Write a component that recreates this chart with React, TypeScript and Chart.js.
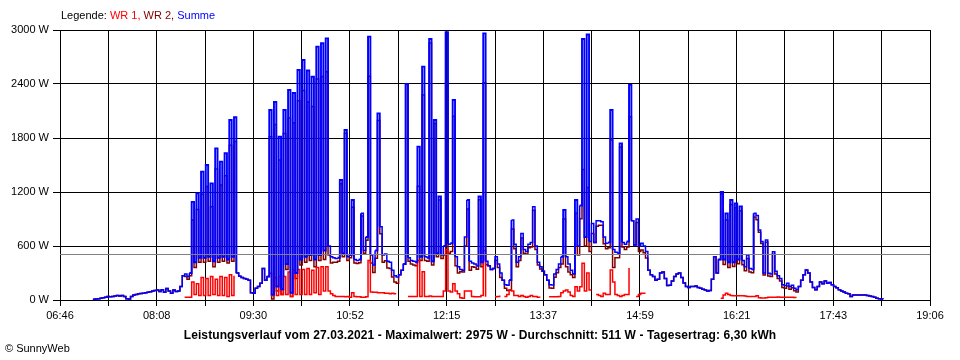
import React, { useEffect, useRef } from "react";
import { Chart, registerables } from "chart.js";

Chart.register(...registerables);

// ---- axis / labels ----
const X_MIN_LABEL = "06:46";
const X_MAX_LABEL = "19:06";
const X_LABELS = ["06:46", "08:08", "09:30", "10:52", "12:15", "13:37", "14:59", "16:21", "17:43", "19:06"];
const X_GRID_DIVISIONS = 18;
const Y_TICKS = [0, 600, 1200, 1800, 2400, 3000];
const Y_UNIT = " W";

// ---- sampling ----
const FIRST_SAMPLE = "07:14";
const SAMPLE_STEP_MIN = 2;
const AVERAGE_W = 511;

// ---- series (W), one row = 30 minutes ----
const SUMME: (number | null)[] = [
  8, 10, 15, 20, 25, 30, 40, 35, 40, 45, 50, 45, 50, 40, 15,
  12, 40, 55, 60, 70, 72, 75, 80, 85, 92, 100, 105, 110, 95, 115,
  85, 128, 100, 75, 110, 95, 100, 150, 270, 290, 260, 300, 1090, 420, 1185,
  470, 1426, 470, 1500, 480, 1296, 430, 1685, 470, 1537, 480, 1630, 450, 2000, 480,
  2030, 300, 265, 250, 240, 230, 220, 80, 75, 130, 150, 185, 350, 220, 260,
  2111, 60, 2200, 150, 1815, 120, 2111, 400, 2333, 80, 2300, 300, 2555, 450, 2667,
  480, 2550, 500, 2480, 450, 2815, 500, 2852, 550, 2907, 600, 480, 470, 460, 470,
  1333, 520, 1889, 480, 500, 1111, 450, 440, 450, 963, 550, 700, 2926, 500, 390,
  550, 2074, 815, 500, 510, 430, 420, 330, 270, 255, 280, 330, 400, 2400, 470,
  440, 430, 420, 1704, 480, 2593, 480, 470, 2900, 430, 2000, 520, 1150, 500, 600,
  2975, 620, 630, 2222, 480, 370, 340, 330, 700, 1111, 430, 410, 400, 380, 1150,
  420, 2963, 430, 380, 340, 350, 480, 400, 300, 220, 170, 165, 222, 888, 620,
  420, 480, 740, 560, 540, 620, 640, 1037, 600, 420, 370, 320, 280, 220, 170,
  167, 290, 340, 400, 480, 1000, 480, 400, 330, 290, 1111, 600, 1050, 2900, 700,
  2950, 650, 850, 640, 880, 880, 870, 700, 630, 640, 2111, 560, 530, 520, 1740,
  640, 620, 650, 2390, 880, 610, 900, 600, 630, 600, 540, 330, 280, 260, 220,
  230, 300, 310, 240, 160, 165, 210, 260, 290, 300, 250, 190, 150, 140, 150,
  150, 155, 140, 130, 120, 110, 100, 105, 230, 480, 300, 450, 1200, 450, 963,
  420, 1111, 420, 1074, 450, 1040, 440, 370, 500, 350, 340, 963, 940, 778, 650,
  300, 667, 296, 290, 537, 320, 270, 240, 170, 160, 185, 150, 165, 130, 115,
  150, 220, 280, 333, 300, 200, 140, 115, 150, 200, 180, 210, 185, 195, 170,
  150, 135, 115, 100, 90, 75, 70, 40, 55, 56, 56, 56, 56, 55, 50,
  45, 40, 30, 20, 15, 10, 7,
];

const n = null;
const WR1: (number | null)[] = [
  n, n, n, n, n, n, n, n, n, n, n, n, n, n, n,
  n, n, n, n, n, n, n, n, n, n, n, n, n, n, n,
  n, n, n, n, n, n, n, n, n, 30, 30, 30, 200, 60, 180,
  50, 250, 50, 240, 50, 260, 60, 230, 50, 260, 50, 250, 40, 280, 50,
  270, n, n, n, n, n, n, n, n, n, n, n, n, n, n,
  296, 50, 250, 50, 260, 60, 260, 60, 310, 40, 330, 60, 340, 60, 340,
  60, 350, 60, 330, 80, 360, 60, 370, 100, 370, 100, 70, 50, 40, 40,
  40, 40, 35, 40, 30, 80, 40, 35, 35, 30, 30, 35, 440, 90, 85,
  85, 80, 80, 80, 75, 75, 70, 75, 70, 70, n, n, n, n, 40,
  40, 40, 40, 440, 40, 315, 40, 40, 45, 40, 40, 40, 40, 40, 100,
  560, 100, 90, 180, 100, 70, 25, 20, 100, 100, 100, 40, 37, 37, 37,
  50, 550, 37, n, n, n, 37, 40, 50, n, 40, 60, 110, 100, 50,
  50, 40, 50, 40, 30, 40, 50, 40, 40, 30, 25, n, n, n, 37,
  37, 37, 37, 40, 80, 100, 110, 90, 50, 40, 148, 100, 148, 407, 100,
  300, 110, 110, n, 60, 50, 40, 74, 60, 60, 333, 200, 60, 50, 40,
  50, 60, 60, 355, n, n, 40, 60, 74, 74, 74, n, n, n, n,
  n, n, n, n, n, n, n, n, n, n, n, n, n, n, n,
  n, n, n, n, n, n, n, n, n, n, n, n, 20, 56, 74,
  60, 50, 48, 48, 48, 48, 48, 45, 40, 40, 38, 40, 48, 25, 22,
  22, 25, 30, 30, 30, 30, 32, 30, 30, 30, 30, 30, 30, 28, 25,
  n, n, n, n, n, n, n, n, n, n, n, n, n, n, n,
  n, n, n, n, n, n, n, n, n, n, n, n, n, n, n,
  n, n, n, n, n, n, n,
];

const WR2: (number | null)[] = [
  8, 10, 15, 20, 25, 30, 40, 35, 40, 45, 50, 45, 50, 40, 15,
  12, 40, 55, 60, 70, 72, 75, 80, 85, 92, 100, 105, 110, 95, 115,
  85, 128, 100, 75, 110, 95, 100, 150, 270, 260, 230, 270, 890, 360, 1005,
  420, 1176, 420, 1260, 430, 1036, 370, 1455, 420, 1277, 430, 1380, 410, 1720, 430,
  1760, 300, 265, 250, 240, 230, 220, 80, 75, 130, 150, 185, 350, 220, 260,
  1815, 10, 1950, 100, 1555, 60, 1851, 340, 2023, 40, 1970, 240, 2215, 390, 2327,
  420, 2200, 440, 2150, 370, 2455, 440, 2482, 450, 2537, 500, 410, 420, 420, 430,
  1293, 480, 1854, 440, 470, 1031, 410, 405, 415, 933, 520, 665, 2486, 410, 305,
  465, 1994, 735, 420, 435, 355, 350, 255, 200, 185, 280, 330, 400, 2400, 430,
  400, 390, 380, 1264, 440, 2278, 440, 430, 2855, 390, 1960, 480, 1110, 460, 500,
  2415, 520, 540, 2042, 380, 300, 315, 310, 600, 1011, 330, 370, 363, 343, 1113,
  370, 2413, 393, 380, 340, 350, 443, 360, 250, 220, 130, 105, 112, 788, 570,
  370, 440, 690, 520, 510, 580, 590, 997, 560, 390, 345, 320, 280, 220, 133,
  130, 253, 303, 360, 400, 900, 370, 310, 280, 250, 963, 500, 902, 1450, 600,
  1250, 540, 740, 640, 820, 830, 830, 626, 570, 580, 1778, 360, 470, 470, 1700,
  590, 560, 590, 2035, 880, 610, 860, 540, 556, 526, 466, 330, 280, 260, 220,
  230, 300, 310, 240, 160, 165, 210, 260, 290, 300, 250, 190, 150, 140, 150,
  150, 155, 140, 130, 120, 110, 100, 105, 230, 480, 300, 450, 1180, 394, 889,
  360, 1061, 372, 1026, 402, 992, 392, 325, 460, 310, 302, 923, 892, 753, 628,
  278, 642, 266, 260, 507, 290, 238, 210, 140, 130, 155, 120, 135, 102, 90,
  150, 220, 280, 333, 300, 200, 140, 115, 150, 200, 180, 210, 185, 195, 170,
  150, 135, 115, 100, 90, 75, 70, 40, 55, 56, 56, 56, 56, 55, 50,
  45, 40, 30, 20, 15, 10, 7,
];

const TITLE = "Leistungsverlauf vom 27.03.2021 - Maximalwert: 2975 W - Durchschnitt: 511 W - Tagesertrag: 6,30 kWh";

const FONT = "'Liberation Sans', Arial, sans-serif";

const toMin = (s: string) => {
  const [h, m] = s.split(":").map(Number);
  return h * 60 + m;
};

const X_MIN = toMin(X_MIN_LABEL);
const X_MAX = toMin(X_MAX_LABEL);
const T0 = toMin(FIRST_SAMPLE);

const toPoints = (arr: (number | null)[]) =>
  arr.map((v, i) => ({ x: T0 + i * SAMPLE_STEP_MIN, y: v }));

const averageLine = {
  id: "averageLine",
  afterDatasetsDraw(chart: any) {
    const { ctx, chartArea, scales } = chart;
    const y = Math.round(scales.y.getPixelForValue(AVERAGE_W)) + 0.5;
    ctx.save();
    ctx.strokeStyle = "#808080";
    ctx.lineWidth = 1;
    ctx.beginPath();
    ctx.moveTo(chartArea.left, y);
    ctx.lineTo(chartArea.right, y);
    ctx.stroke();
    ctx.restore();
  },
};

export default function App() {
  const ref = useRef<HTMLCanvasElement | null>(null);

  useEffect(() => {
    document.body.style.margin = "0";
    const canvas = ref.current;
    if (!canvas) return;
    const line = (label: string, data: (number | null)[], color: string, jumpWidth: number) => ({
      label,
      data: toPoints(data),
      borderColor: color,
      backgroundColor: color,
      borderWidth: 1.5,
      pointRadius: 0,
      stepped: true,
      spanGaps: false,
      fill: false,
      borderCapStyle: "butt",
      borderJoinStyle: "miter",
      segment: {
        borderWidth: (ctx: any) =>
          Math.abs(ctx.p0.parsed.y - ctx.p1.parsed.y) > 500 ? jumpWidth : 1.5,
      },
    });
    const chart = new Chart(canvas, {
      type: "line",
      data: {
        datasets: [
          line("Summe", SUMME, "#0000ff", 1.9),
          line("WR 1", WR1, "#ff0000", 1.5),
          line("WR 2", WR2, "#800000", 1.5),
        ] as any,
      },
      options: {
        animation: false,
        responsive: false,
        maintainAspectRatio: false,
        parsing: false as any,
        normalized: true,
        layout: { padding: { top: 30, right: 30, left: 0, bottom: 0 } },
        plugins: {
          legend: { display: false },
          tooltip: { enabled: false },
          title: { display: false },
        },
        scales: {
          x: {
            type: "linear",
            min: X_MIN,
            max: X_MAX,
            z: 1,
            afterBuildTicks: (scale: any) => {
              const ticks = [];
              for (let k = 0; k <= X_GRID_DIVISIONS; k++) {
                ticks.push({ value: X_MIN + (k * (X_MAX - X_MIN)) / X_GRID_DIVISIONS });
              }
              scale.ticks = ticks;
            },
            afterFit: (scale: any) => {
              scale.height = 60;
            },
            ticks: {
              autoSkip: false,
              maxRotation: 0,
              minRotation: 0,
              padding: 3,
              color: "#000",
              font: { family: FONT, size: 11 },
              callback: (_v: any, i: number) => (i % 2 === 0 ? X_LABELS[i / 2] : ""),
            },
            grid: { color: "#000", lineWidth: 1, tickLength: 6, drawTicks: true },
            border: { color: "#000", width: 1 },
          },
          y: {
            type: "linear",
            min: Y_TICKS[0],
            max: Y_TICKS[Y_TICKS.length - 1],
            z: 1,
            afterBuildTicks: (scale: any) => {
              scale.ticks = Y_TICKS.map((v) => ({ value: v }));
            },
            afterFit: (scale: any) => {
              scale.width = 60;
            },
            ticks: {
              padding: 4,
              color: "#000",
              font: { family: FONT, size: 11 },
              callback: (v: any) => `${v}${Y_UNIT}`,
            },
            grid: { color: "#000", lineWidth: 1, tickLength: 7, drawTicks: true },
            border: { color: "#000", width: 1 },
          },
        },
      } as any,
      plugins: [averageLine],
    });
    return () => chart.destroy();
  }, []);

  return (
    <div
      style={{
        position: "absolute",
        left: 0,
        top: 0,
        width: 960,
        height: 360,
        background: "#fff",
        fontFamily: FONT,
        color: "#000",
      }}
    >
      <canvas
        ref={ref}
        width={960}
        height={360}
        style={{ position: "absolute", left: 0, top: 0, width: 960, height: 360 }}
      />
      <div
        style={{
          position: "absolute",
          left: 61,
          top: 9,
          fontSize: 11,
          lineHeight: "13px",
          whiteSpace: "nowrap",
        }}
      >
        Legende: <span style={{ color: "#ff0000" }}>WR 1,</span>{" "}
        <span style={{ color: "#800000" }}>WR 2,</span>{" "}
        <span style={{ color: "#0000ff" }}>Summe</span>
      </div>
      <div
        style={{
          position: "absolute",
          left: 0,
          top: 328,
          width: 960,
          textAlign: "center",
          fontSize: 12,
          fontWeight: "bold",
          lineHeight: "14px",
          letterSpacing: "0.1px",
          whiteSpace: "nowrap",
        }}
      >
        {TITLE}
      </div>
      <div
        style={{
          position: "absolute",
          left: 5,
          top: 342,
          fontSize: 11,
          lineHeight: "13px",
          whiteSpace: "nowrap",
        }}
      >
        © SunnyWeb
      </div>
    </div>
  );
}
